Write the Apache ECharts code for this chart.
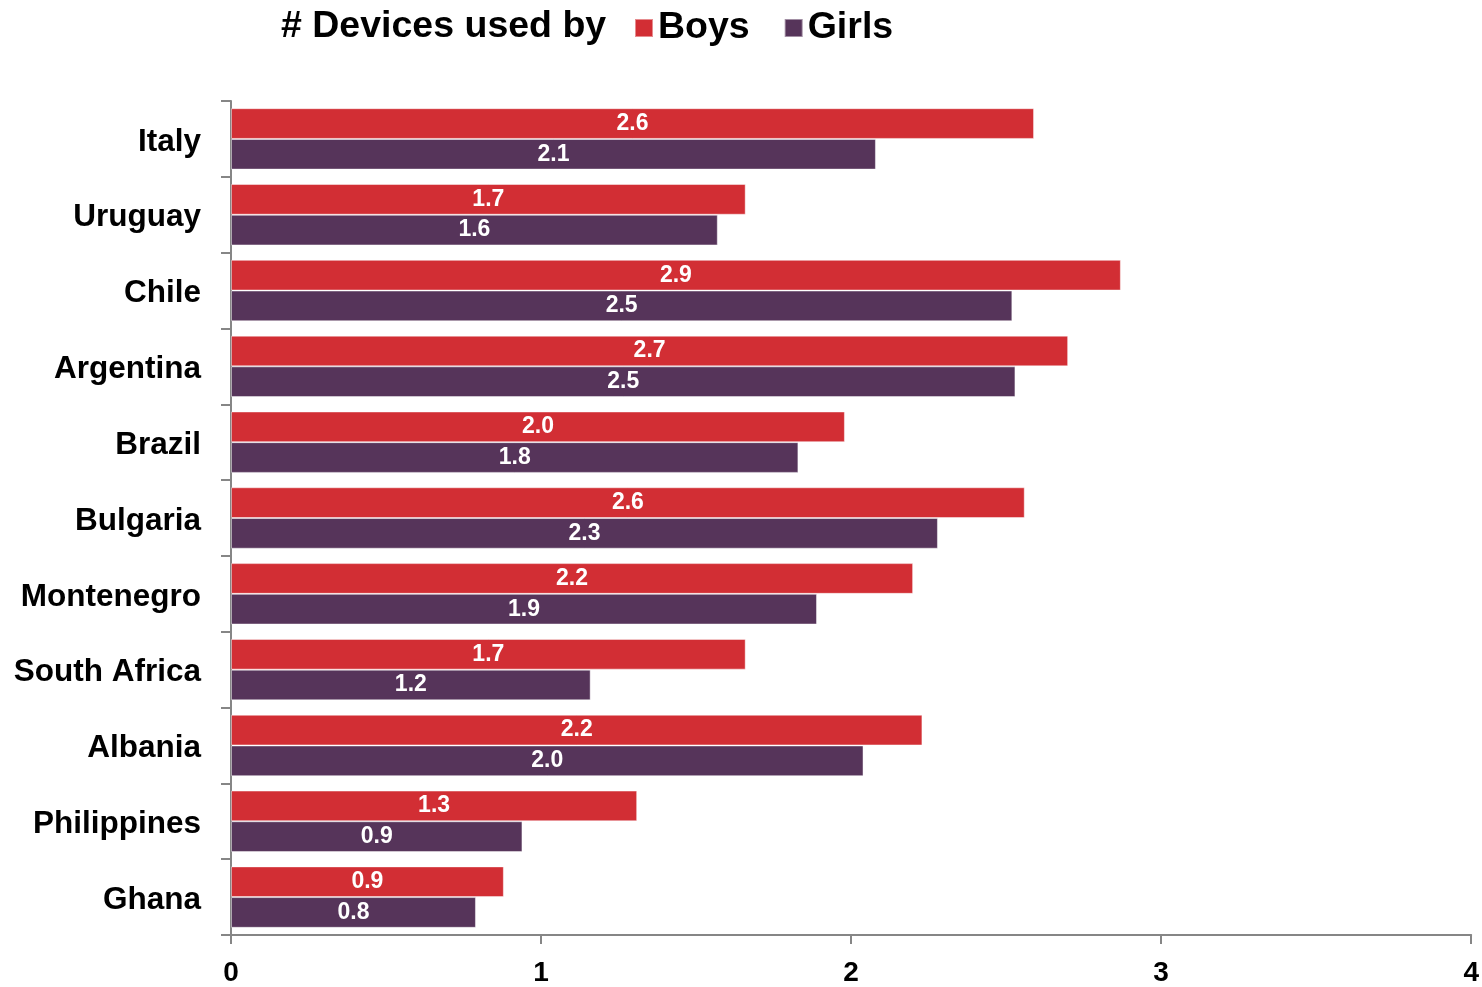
<!DOCTYPE html>
<html>
<head>
<meta charset="utf-8">
<script src="https://cdn.jsdelivr.net/npm/echarts@6/dist/echarts.min.js"></script>
<style>
  html, body { margin: 0; padding: 0; background: #ffffff; }
  #chart { width: 1482px; height: 987px; }
</style>
</head>
<body>
<div id="chart"></div>
<script>
// Countries, listed top to bottom
const countries = ['Italy', 'Uruguay', 'Chile', 'Argentina', 'Brazil', 'Bulgaria',
  'Montenegro', 'South Africa', 'Albania', 'Philippines', 'Ghana'];

// Average number of devices used
const boys  = [2.59, 1.66, 2.87, 2.70, 1.98, 2.56, 2.20, 1.66, 2.23, 1.31, 0.88];
const girls = [2.08, 1.57, 2.52, 2.53, 1.83, 2.28, 1.89, 1.16, 2.04, 0.94, 0.79];

const xTicks = [0, 1, 2, 3, 4];

const FONT = '"Liberation Sans", Arial, sans-serif';
const AXIS_GREY = '#868686';

const valueLabel = {
  show: true,
  position: 'inside',
  color: '#ffffff',
  fontFamily: FONT,
  fontWeight: 'bold',
  fontSize: 23,
  formatter: p => p.value.toFixed(1)
};

const chart = echarts.init(document.getElementById('chart'), null, { renderer: 'canvas' });

chart.setOption({
  animation: false,
  backgroundColor: '#ffffff',
  title: {
    text: '# Devices used by',
    left: 276,
    top: 3,
    textStyle: { fontFamily: FONT, fontWeight: 'bold', fontSize: 37.5, color: '#000000' }
  },
  legend: {
    left: 629,
    top: 4,
    icon: 'rect',
    itemWidth: 18,
    itemHeight: 18,
    itemGap: 34,
    textStyle: { fontFamily: FONT, fontWeight: 'bold', fontSize: 37.5, color: '#000000' },
    data: ['Boys', 'Girls']
  },
  grid: { left: 231, right: 5, top: 101, bottom: 52, containLabel: false },
  xAxis: {
    type: 'value',
    min: xTicks[0],
    max: xTicks[xTicks.length - 1],
    interval: 1,
    splitLine: { show: false },
    axisLine: { show: true, lineStyle: { color: AXIS_GREY, width: 2 } },
    axisTick: { show: true, length: 9, lineStyle: { color: AXIS_GREY, width: 2 } },
    axisLabel: {
      margin: 24,
      fontFamily: FONT, fontWeight: 'bold', fontSize: 28, color: '#000000',
      formatter: v => String(v)
    }
  },
  yAxis: {
    type: 'category',
    inverse: true,
    data: countries,
    axisLine: { show: true, lineStyle: { color: AXIS_GREY, width: 2 } },
    axisTick: { show: true, length: 10, lineStyle: { color: AXIS_GREY, width: 2 } },
    axisLabel: {
      margin: 30,
      verticalAlign: 'top',
      lineHeight: 6,
      fontFamily: FONT, fontWeight: 'bold', fontSize: 31.5, color: '#000000'
    }
  },
  series: [
    {
      name: 'Boys',
      type: 'bar',
      data: boys,
      barCategoryGap: '19%',
      barGap: '0%',
      itemStyle: { color: '#D22E34', borderColor: 'rgba(255,255,255,0.45)', borderWidth: 1 },
      label: valueLabel
    },
    {
      name: 'Girls',
      type: 'bar',
      data: girls,
      barCategoryGap: '19%',
      barGap: '0%',
      itemStyle: { color: '#56345A', borderColor: 'rgba(255,255,255,0.45)', borderWidth: 1 },
      label: valueLabel
    }
  ]
});
</script>
</body>
</html>
